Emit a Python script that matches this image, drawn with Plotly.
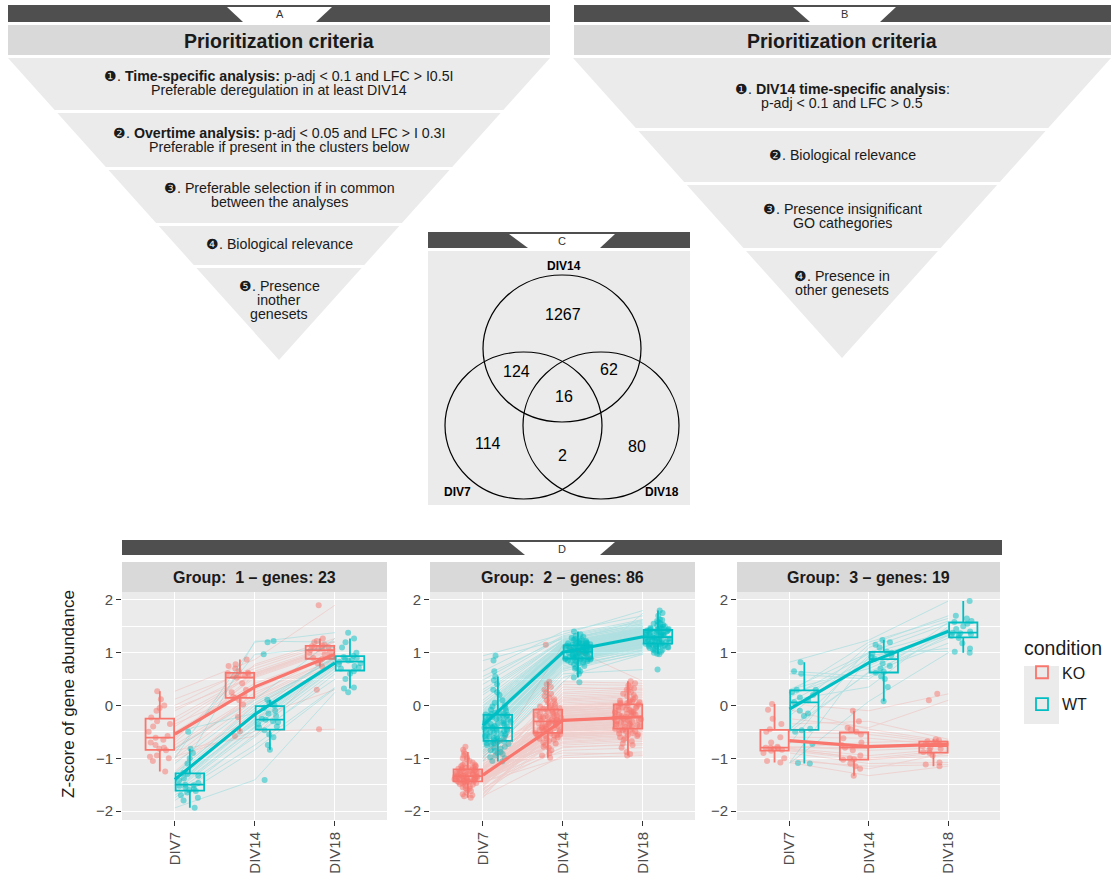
import numpy as np
import plotly.graph_objects as go

# ---------------- data ----------------
times = ["DIV7", "DIV14", "DIV18"]
conditions = ["KO", "WT"]
group_ids = [1, 2, 3]
group_gene_counts = [23, 86, 19]

# Group 1 (23 genes) z-scores
g1_ko_div7 = [-0.61, 0.27, -0.95, -0.3, -1.05, -0.5, 0.0, -0.82, -1.25, -0.7, 0.12, -0.35, -0.97, -0.4, -0.8, -0.05, -0.65, -1.0, -0.23, -0.58, -0.85, -0.1, -0.75]
g1_ko_div14 = [0.53, 0.87, 0.25, 0.6, -0.22, 0.42, 0.75, 0.14, 0.02, 0.57, 0.7, 0.3, -0.49, 0.62, 0.16, 0.55, 0.78, 0.1, 0.61, 0.58, -0.58, 0.65, 0.2]
g1_ko_div18 = [1.05, 1.9, 0.88, 1.1, 0.3, 0.97, 1.22, 0.85, 0.74, 1.08, 1.2, 1.0, -0.45, 1.13, 0.9, 1.07, 1.27, 0.8, 1.12, 1.11, 0.93, 1.15, 1.02]
g1_wt_div7 = [-1.5, -0.82, -1.65, -1.3, -1.94, -1.42, -1.0, -1.6, -1.8, -1.38, -0.9, -1.52, -1.7, -1.33, -1.62, -1.1, -1.47, -1.75, -1.28, -1.51, -1.58, -0.5, -1.55]
g1_wt_div14 = [-0.27, 0.11, -0.6, 0.0, -1.41, -0.35, 1.2, -0.42, -0.84, -0.2, 0.97, -0.3, -0.75, -0.1, -0.47, 0.05, 1.22, -0.55, -0.05, -0.25, -0.4, -0.15, -0.32]
g1_wt_div18 = [0.83, 1.27, 0.6, 0.9, 0.25, 0.75, 1.38, 0.7, 0.32, 0.86, 1.1, 0.8, 0.34, 0.92, 0.65, 0.88, 1.2, 0.5, 0.94, 0.85, 0.72, 1.0, 0.78]

# Group 2 (86 genes)
g2_ko_div7 = [-1.34, -1.21, -1.45, -1.12, -1.38, -0.95, -1.52, -1.28, -1.40, -1.18,
              -1.62, -1.30, -1.05, -1.36, -1.44, -1.25, -0.78, -1.48, -1.33, -1.15,
              -1.41, -1.72, -1.22, -1.37, -1.10, -1.55, -1.31, -1.43, -0.88, -1.27,
              -1.39, -1.19, -1.58, -1.35, -1.02, -1.46, -1.29, -1.42, -1.68, -1.24,
              -1.36, -1.14, -1.50, -1.32, -0.92, -1.40, -1.26, -1.44, -1.17, -1.75,
              -1.33, -1.08, -1.47, -1.38, -1.23, -1.60, -1.30, -0.84, -1.41, -1.20,
              -1.35, -1.53, -1.16, -1.43, -1.28, -1.65, -1.37, -1.00, -1.45, -1.22,
              -1.39, -1.13, -1.49, -1.34, -1.26, -1.57, -1.32, -1.42, -0.98, -1.36,
              -1.18, -1.44, -1.31, -1.70, -1.25, -1.39]
g2_ko_div14 = [-0.27, -0.05, -0.48, 0.12, -0.62, -0.20, -0.35, 0.30, -0.80, -0.10,
               -0.42, -0.15, -0.55, 0.05, -0.30, -0.70, -0.22, 0.45, -0.58, -0.08,
               -0.38, -0.95, -0.25, 0.18, -0.50, -0.12, -0.33, -0.65, 0.00, -0.45,
               -0.28, 0.35, -0.60, -0.18, -0.40, -0.85, -0.03, -0.52, -0.24, 0.22,
               -0.36, -0.75, -0.14, -0.46, 0.08, -0.31, -0.57, -0.20, -0.90, -0.06,
               -0.43, 0.15, -0.26, -0.68, -0.11, -0.39, 1.15, -0.53, -0.29, -0.02,
               -0.47, -0.16, -0.72, 0.25, -0.34, -0.59, -0.07, -0.41, -0.99, -0.21,
               -0.32, 0.10, -0.54, -0.19, -0.44, -0.78, -0.04, -0.37, 0.40, -0.63,
               -0.23, -0.49, -0.09, -0.30, -0.56, 0.02]
g2_ko_div18 = [-0.17, 0.05, -0.40, 0.20, -0.55, -0.10, -0.28, 0.35, -0.72, 0.00,
               -0.33, -0.05, -0.47, 0.12, -0.22, -0.62, -0.12, 0.42, -0.50, 0.02,
               -0.30, -0.88, -0.15, 0.25, -0.42, -0.02, -0.25, -0.58, 0.08, -0.37,
               -0.19, 0.30, -0.52, -0.08, -0.35, -0.80, 0.06, -0.45, -0.14, 0.28,
               -0.27, -0.68, -0.04, -0.39, 0.15, -0.21, -0.48, -0.11, -0.92, 0.03,
               -0.34, 0.22, -0.18, -0.60, -0.01, -0.31, 0.46, -0.44, -0.20, 0.09,
               -0.38, -0.07, -0.65, 0.32, -0.24, -0.53, 0.04, -0.32, -0.95, -0.13,
               -0.23, 0.18, -0.46, -0.09, -0.36, -0.75, 0.07, -0.29, 0.38, -0.56,
               -0.16, -0.41, -0.03, -0.26, -0.49, 0.10]
g2_wt_div7 = [-0.46, -0.20, -0.68, 0.10, -0.85, -0.35, -0.55, 0.40, -0.95, -0.25,
              -0.60, -0.30, -0.75, -0.05, -0.42, -0.90, -0.15, 0.94, -0.72, -0.22,
              -0.52, -1.05, -0.38, 0.20, -0.65, -0.18, -0.48, -0.80, -0.10, -0.58,
              -0.40, 0.55, -0.70, -0.28, -0.50, -1.00, -0.12, -0.66, -0.33, 0.30,
              -0.45, -0.88, -0.24, -0.62, 0.00, -0.44, -0.74, -0.32, -0.98, -0.16,
              -0.54, 0.85, -0.36, -0.82, -0.21, -0.57, 0.65, -0.69, -0.41, -0.08,
              -0.63, -0.27, -0.86, 0.25, -0.47, -0.73, -0.14, -0.53, -1.06, -0.31,
              -0.43, 0.05, -0.67, -0.26, -0.59, -0.92, -0.19, -0.49, 0.48, -0.78,
              -0.34, -0.61, -0.17, -0.39, -0.71, -0.02]
g2_wt_div14 = [1.03, 1.15, 0.92, 1.25, 0.80, 1.08, 0.97, 1.30, 0.70, 1.12,
               0.95, 1.05, 0.85, 1.20, 1.00, 0.75, 1.10, 1.35, 0.88, 1.17,
               0.99, 0.60, 1.06, 1.22, 0.90, 1.13, 1.01, 0.83, 1.18, 0.94,
               1.04, 1.28, 0.87, 1.09, 0.96, 0.65, 1.14, 0.89, 1.07, 1.24,
               1.02, 0.78, 1.11, 0.91, 1.21, 1.00, 0.84, 1.16, 0.44, 1.10,
               0.93, 1.26, 1.04, 0.82, 1.12, 0.98, 1.40, 0.86, 1.06, 1.19,
               0.90, 1.14, 0.72, 1.23, 1.02, 0.85, 1.17, 0.95, 0.53, 1.08,
               1.01, 1.20, 0.88, 1.11, 0.97, 0.68, 1.15, 0.92, 1.32, 0.81,
               1.05, 0.89, 1.13, 0.99, 0.87, 1.18]
g2_wt_div18 = [1.29, 1.42, 1.18, 1.55, 1.05, 1.35, 1.22, 1.60, 0.98, 1.38,
               1.20, 1.32, 1.12, 1.48, 1.26, 1.02, 1.40, 1.80, 1.15, 1.45,
               1.27, 0.68, 1.33, 1.52, 1.17, 1.41, 1.28, 1.10, 1.47, 1.21,
               1.31, 1.58, 1.14, 1.37, 1.24, 1.00, 1.43, 1.16, 1.34, 1.50,
               1.30, 1.08, 1.39, 1.19, 1.62, 1.25, 1.11, 1.44, 1.75, 1.36,
               1.23, 1.53, 1.32, 1.09, 1.40, 1.26, 1.70, 1.13, 1.34, 1.46,
               1.18, 1.42, 1.04, 1.56, 1.29, 1.12, 1.45, 1.22, 0.97, 1.37,
               1.28, 1.49, 1.16, 1.39, 1.24, 1.06, 1.43, 1.20, 1.63, 1.10,
               1.33, 1.17, 1.41, 1.27, 1.15, 1.46]

# Group 3 (19 genes)
g3_ko_div7 = [-0.8, 0.03, -1.0, -0.45, -0.84, -0.25, -1.08, -0.7, -0.81, -0.35, -0.9, -0.6, -0.08, -0.86, -0.5, -1.05, -0.78, -0.82, -0.8]
g3_ko_div14 = [-0.8, -0.1, -1.2, -0.5, -1.0, -0.42, -1.33, -0.75, -0.95, -0.3, -1.1, -0.62, -0.45, -1.03, -0.55, -1.15, -0.85, -1.02, -0.7]
g3_ko_div18 = [-0.77, 0.22, -0.9, -0.7, -0.85, 0.1, -1.15, -0.73, -0.82, -0.64, -1.08, -0.75, -0.68, -0.88, -0.72, -1.12, -0.8, -0.95, -0.66]
g3_wt_div7 = [0.06, 0.82, -0.5, 0.3, -1.1, 0.2, -0.15, 0.65, -0.47, 0.1, -0.73, 0.3, -0.2, 0.6, -1.09, 0.25, -0.44, 0.15, -0.1]
g3_wt_div14 = [0.88, 1.24, 0.64, 1.0, 0.08, 0.75, 1.15, 0.55, 0.95, 0.35, 1.1, 0.7, 1.02, 0.5, 0.92, 1.2, 0.62, 0.98, 0.8]
g3_wt_div18 = [1.38, 1.98, 1.28, 1.55, 1.0, 1.45, 1.7, 1.33, 1.08, 1.5, 1.6, 1.35, 1.02, 1.58, 1.32, 1.65, 1.18, 1.4, 1.37]

# Venn diagram (panel C)
venn_sets = ["DIV14", "DIV7", "DIV18"]
venn_regions = ["DIV14 only", "DIV7&DIV14", "DIV14&DIV18", "all", "DIV7 only", "DIV7&DIV18", "DIV18 only"]
venn_counts = [1267, 124, 62, 16, 114, 2, 80]

# Prioritization criteria texts (panels A and B)
criteria_a = [
    ["❶. <b>Time-specific analysis:</b> p-adj &lt; 0.1 and LFC &gt; I0.5I", "Preferable deregulation in at least DIV14"],
    ["❷. <b>Overtime analysis:</b> p-adj &lt; 0.05 and LFC &gt; I 0.3I", "Preferable if present in the clusters below"],
    ["❸. Preferable selection if in common", "between the analyses"],
    ["❹. Biological relevance"],
    ["❺. Presence", "inother", "genesets"],
]
criteria_b = [
    ["❶. <b>DIV14 time-specific analysis</b>:", "p-adj &lt; 0.1 and LFC &gt; 0.5"],
    ["❷. Biological relevance"],
    ["❸. Presence insignificant", "GO cathegories"],
    ["❹. Presence in", "other genesets"],
]

group_data = [
    {"KO": [g1_ko_div7, g1_ko_div14, g1_ko_div18], "WT": [g1_wt_div7, g1_wt_div14, g1_wt_div18]},
    {"KO": [g2_ko_div7, g2_ko_div14, g2_ko_div18], "WT": [g2_wt_div7, g2_wt_div14, g2_wt_div18]},
    {"KO": [g3_ko_div7, g3_ko_div14, g3_ko_div18], "WT": [g3_wt_div7, g3_wt_div14, g3_wt_div18]},
]

# ---------------- styling / layout ----------------
COLORS = {"KO": "#F8766D", "WT": "#00BFC4"}
FONT = "Liberation Sans, Arial, Helvetica, sans-serif"
DARK = "#4F4F4F"
STRIP = "#D9D9D9"
PANEL = "#EBEBEB"

# full-window figure (page body margin removed by post_script below)
W, H, OX, OY = 1117, 874, 0, 0


def X(px):
    return (px - OX) / W


def Y(py):
    return 1 - (py - OY) / H


shapes = []
annotations = []


def rect(x0, y0, x1, y1, color):
    shapes.append(dict(type="rect", xref="paper", yref="paper", x0=X(x0), x1=X(x1),
                       y0=Y(y1), y1=Y(y0), fillcolor=color, line=dict(width=0), layer="below"))


def poly(pts, color, layer="below"):
    path = "M " + " L ".join(f"{X(a):.5f},{Y(b):.5f}" for a, b in pts) + " Z"
    shapes.append(dict(type="path", xref="paper", yref="paper", path=path,
                       fillcolor=color, line=dict(width=0), layer=layer))


def text(x, y, s, size=13, color="#1A1A1A", **kw):
    annotations.append(dict(xref="paper", yref="paper", x=X(x), y=Y(y), text=s, showarrow=False,
                            xanchor=kw.pop("xanchor", "center"), yanchor=kw.pop("yanchor", "middle"),
                            font=dict(family=FONT, size=size, color=color), **kw))


def header(x0, x1, y0, y1, tab_top, tab_bot, label):
    rect(x0, y0, x1, y1, DARK)
    poly([(tab_top[0], y0 + 2), (tab_top[1], y0 + 2), (tab_bot[1], y1), (tab_bot[0], y1)], "white", layer="above")
    text((tab_top[0] + tab_top[1]) / 2, (y0 + y1) / 2 + 1, label, size=11, color="#333333")


def pyramid(cx, hw, top, apex, bands, lines_list, line_ys):
    def half(y):
        return hw * (apex - y) / (apex - top)
    for (b0, b1) in bands:
        poly([(cx - half(b0), b0), (cx + half(b0), b0), (cx + half(b1), b1), (cx - half(b1), b1)], PANEL)
    for lines, ys in zip(lines_list, line_ys):
        for s, yy in zip(lines, ys):
            text(cx, yy, s, size=14.2)


# Panel A
header(8, 550, 5, 22, (227, 332), (243, 316), "A")
rect(8, 25, 550, 55, STRIP)
text(279, 41, "<b>Prioritization criteria</b>", size=19.5)
pyramid(279, 271, 58, 360, [(58, 110), (113, 167), (170, 223), (226, 265), (268, 360)],
        criteria_a, [[76, 90], [133, 147], [188, 202], [244], [286, 300, 314]])

# Panel B
header(574, 1111, 5, 22, (793, 896), (810, 880), "B")
rect(574, 25, 1111, 55, STRIP)
text(842, 41, "<b>Prioritization criteria</b>", size=19.5)
pyramid(842, 269, 58, 358, [(58, 128), (131, 182), (185, 248), (251, 358)],
        criteria_b, [[89, 103], [155], [209, 223], [276, 290]])

# Panel C (Venn)
header(428, 690, 232, 248, (509, 615), (528, 600), "C")
rect(428, 251, 690, 505, PANEL)
venn_circles = [(483, 275, 641, 422), (445, 352, 602, 499), (523, 352, 679, 499)]
for (x0, y0, x1, y1) in venn_circles:
    shapes.append(dict(type="circle", xref="paper", yref="paper", x0=X(x0), x1=X(x1), y0=Y(y1), y1=Y(y0),
                       line=dict(color="black", width=1.2), fillcolor="rgba(0,0,0,0)", layer="above"))
venn_label_pos = [(564, 266), (457, 492), (662, 492)]
for s, (px, py) in zip(venn_sets, venn_label_pos):
    text(px, py, f"<b>{s}</b>", size=12, color="black")
venn_count_pos = [(563, 314), (516, 372), (609, 369), (564, 397), (488, 443), (562, 455), (637, 447)]
for c, (px, py) in zip(venn_counts, venn_count_pos):
    text(px, py, str(c), size=16, color="black")

# Panel D
header(122, 1002, 540, 555, (509, 615), (525, 600), "D")
panel_x = [(122, 387), (430, 695), (737, 1000)]
PLOT_TOP, PLOT_BOT, STRIP_TOP = 592, 820, 562

fig = go.Figure()
layout = {}
for gi, (l, r) in enumerate(panel_x):
    sfx = "" if gi == 0 else str(gi + 1)
    xa, ya = "x" + sfx, "y" + sfx
    layout["xaxis" + sfx] = dict(domain=[X(l), X(r)], anchor=ya, type="category", automargin=False,
                                 categoryorder="array", categoryarray=times, range=[-0.66, 2.65],
                                 showgrid=True, gridcolor="white", gridwidth=1.1, zeroline=False,
                                 ticks="outside", ticklen=5, tickcolor="#333333", tickangle=-90,
                                 tickfont=dict(family=FONT, size=15, color="#4D4D4D"), fixedrange=True)
    layout["yaxis" + sfx] = dict(domain=[Y(PLOT_BOT), Y(PLOT_TOP)], anchor=xa, range=[-2.17, 2.15],
                                 automargin=False,
                                 tickvals=[-2, -1, 0, 1, 2], showgrid=True, gridcolor="white", gridwidth=1.1,
                                 minor=dict(dtick=0.5, tick0=0, showgrid=True, gridcolor="white", gridwidth=0.5),
                                 zeroline=False, ticks="outside", ticklen=5, tickcolor="#333333",
                                 tickfont=dict(family=FONT, size=15, color="#4D4D4D"), fixedrange=True)
    rect(l, STRIP_TOP, r, PLOT_TOP, STRIP)
    text((l + r) / 2, (STRIP_TOP + PLOT_TOP) / 2,
         f"<b>Group:\u00a0 {group_ids[gi]} – genes: {group_gene_counts[gi]}</b>", size=16)

    data = group_data[gi]
    # thin per-gene lines
    for cond in conditions:
        vals = data[cond]
        lx, ly = [], []
        for g in range(len(vals[0])):
            lx += times + [None]
            ly += [vals[0][g], vals[1][g], vals[2][g], None]
        fig.add_trace(go.Scatter(x=lx, y=ly, mode="lines", xaxis=xa, yaxis=ya,
                                 line=dict(color=COLORS[cond], width=0.8), opacity=0.25,
                                 hoverinfo="skip", showlegend=False))
    # boxes with jittered points (dodged by condition)
    for cond in conditions:
        vals = data[cond]
        bx = []
        for t, v in zip(times, vals):
            bx += [t] * len(v)
        fig.add_trace(go.Box(x=bx, y=vals[0] + vals[1] + vals[2], name=cond, legendgroup=cond,
                             showlegend=(gi == 0), xaxis=xa, yaxis=ya,
                             alignmentgroup=f"group{gi}", offsetgroup=cond,
                             boxpoints="all", jitter=1, pointpos=0, whiskerwidth=0,
                             marker=dict(color=COLORS[cond], opacity=0.5, size=6),
                             line=dict(color=COLORS[cond], width=1.8), fillcolor="rgba(0,0,0,0)"))
    # mean trend lines
    for cond in conditions:
        vals = data[cond]
        fig.add_trace(go.Scatter(x=times, y=[float(np.mean(v)) for v in vals], mode="lines",
                                 xaxis=xa, yaxis=ya, line=dict(color=COLORS[cond], width=3.2),
                                 hoverinfo="skip", showlegend=False))

text(68, 694, "Z-score of gene abundance", size=17, textangle=-90)

# grey legend key background (ggplot-style)
rect(1024, 666, 1059, 724, "#EBEBEB")

fig.update_layout(
    width=W, height=H, margin=dict(l=0, r=0, t=0, b=0, autoexpand=False),
    paper_bgcolor="white", plot_bgcolor=PANEL,
    boxmode="group", boxgap=0.25, boxgroupgap=0.05,
    shapes=shapes, annotations=annotations,
    font=dict(family=FONT),
    legend=dict(title=dict(text="condition", font=dict(family=FONT, size=19.5, color="#1A1A1A")),
                font=dict(family=FONT, size=16, color="#1A1A1A"),
                x=X(1022), y=Y(630), xanchor="left", yanchor="top",
                bgcolor="rgba(0,0,0,0)", tracegroupgap=8),
    **layout,
)

fig.write_html("out.html", config={"displayModeBar": False},
               post_script="document.body.style.margin='0';document.body.style.overflow='hidden';")
